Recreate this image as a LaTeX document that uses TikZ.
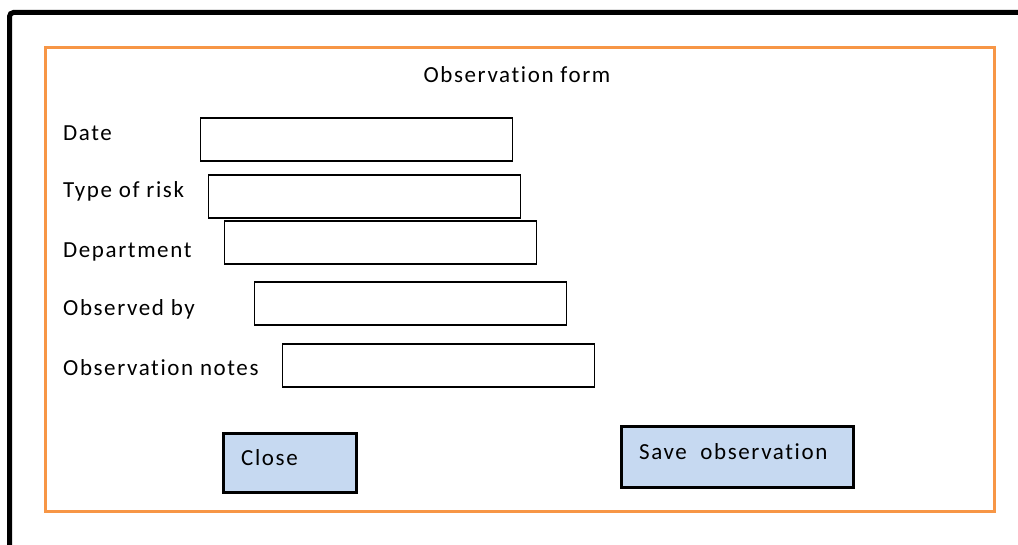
\documentclass[tikz,border=0pt]{standalone}
\usepackage{fontspec}
\setmainfont{Carlito}[LetterSpace=7, Ligatures={NoCommon}]
\definecolor{frameorange}{HTML}{F79646}
\definecolor{btnblue}{HTML}{C6D9F1}
\begin{document}
\begin{tikzpicture}[x=1pt,y=-1pt,
  field/.style={draw=black, line width=1.6pt, fill=white, rectangle, inner sep=0pt, anchor=north west},
  button/.style={draw=black, line width=3pt, fill=btnblue, rectangle, inner sep=0pt, anchor=north west},
  lbl/.style={anchor=west, inner sep=0pt, font=\fontsize{23}{26}\selectfont},
  btnlbl/.style={anchor=west, inner sep=0pt, font=\fontsize{23}{26}\selectfont}]
\useasboundingbox (0,0) rectangle (1018,545);
\fill[white] (0,0) rectangle (1018,545);
% outer window frame, running off the page at right and bottom
\begin{scope}
\clip (0,0) rectangle (1018,545);
\draw[line width=5pt, rounded corners=4pt] (9.5,560) -- (9.5,12.5) -- (1030,12.5);
\end{scope}
% form panel
\node[draw=frameorange, line width=3pt, rectangle, inner sep=0pt, anchor=north west,
      minimum width=949pt, minimum height=464pt] (panel) at (44,46) {};
\node[inner sep=0pt, font=\fontsize{23}{26}\selectfont] (title) at (517,75) {Observation form};
% labels
\node[lbl] (ldate) at (63,133) {Date};
\node[lbl] (lrisk) at (63,191) {Type of risk};
\node[lbl] (ldept) at (63,252) {Department};
\node[lbl] (lobs) at (63,309) {Observed by};
\node[lbl] (lnotes) at (63,368) {Observation notes};
% input fields
\node[field, minimum width=312pt, minimum height=43pt] (fdate) at (199.5,117) {};
\node[field, minimum width=312pt, minimum height=43pt] (frisk) at (207.5,174.5) {};
\node[field, minimum width=312pt, minimum height=43pt] (fdept) at (223.5,220.5) {};
\node[field, minimum width=312pt, minimum height=43pt] (fobs) at (253.5,281.5) {};
\node[field, minimum width=312pt, minimum height=43pt] (fnotes) at (281.5,343.5) {};
% buttons
\node[button, minimum width=133pt, minimum height=59pt] (bclose) at (222,432) {};
\node[btnlbl] at (241,458) {Close};
\node[button, minimum width=232pt, minimum height=61pt] (bsave) at (620,425) {};
\node[btnlbl] at (639,452) {Save\ \ observation};
\end{tikzpicture}
\end{document}
